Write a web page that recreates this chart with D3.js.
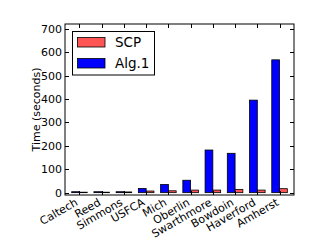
<!DOCTYPE html>
<html>
<head>
<meta charset="utf-8">
<script src="https://cdn.jsdelivr.net/npm/d3@7"></script>
<style>
  body { margin: 0; background: #fff; }
  text { font-family: "DejaVu Sans", sans-serif; fill: #000; }
</style>
</head>
<body>
<svg width="327" height="245"></svg>
<script>
var schools = ["Caltech", "Reed", "Simmons", "USFCA", "Mich", "Oberlin", "Swarthmore", "Bowdoin", "Haverford", "Amherst"];
var scp = [2, 2, 3, 7, 8, 11, 11, 14, 11, 17];
var alg1 = [4, 4, 4, 18, 35, 53, 182, 168, 395, 567];
var yTicks = [0, 100, 200, 300, 400, 500, 600, 700];

var svg = d3.select("svg"),
  plotL = 65, plotR = 294, plotT = 24, plotB = 195,
  barW = 0.35;

var x = d3.scaleLinear().domain([-0.3, 10.0]).range([plotL, plotR]);
var y = d3.scaleLinear().domain([-10, 720]).range([plotB, plotT]);

var g = svg.append("g");

// bars: Alg.1 on the left, SCP on the right of each group
g.append("g").selectAll("rect")
  .data(alg1)
  .enter().append("rect")
  .attr("x", function (d, i) { return x(i); })
  .attr("width", function () { return x(barW) - x(0); })
  .attr("y", function (d) { return y(d); })
  .attr("height", function (d) { return y(0) - y(d); })
  .attr("fill", "#0000ff")
  .attr("stroke", "#000")
  .attr("stroke-width", 0.8);

g.append("g").selectAll("rect")
  .data(scp)
  .enter().append("rect")
  .attr("x", function (d, i) { return x(i + barW); })
  .attr("width", function () { return x(barW) - x(0); })
  .attr("y", function (d) { return y(d); })
  .attr("height", function (d) { return y(0) - y(d); })
  .attr("fill", "#ff5555")
  .attr("stroke", "#000")
  .attr("stroke-width", 0.8);

// frame
g.append("rect")
  .attr("x", plotL).attr("y", plotT)
  .attr("width", plotR - plotL).attr("height", plotB - plotT)
  .attr("fill", "none")
  .attr("stroke", "#000")
  .attr("stroke-width", 1);

// y ticks (inside, both sides)
var yt = g.append("g").selectAll("g")
  .data(yTicks)
  .enter().append("g")
  .attr("transform", function (d) { return "translate(0," + (Math.round(y(d)) + 0.5) + ")"; });

yt.append("line").attr("x1", plotL).attr("x2", plotL + 4).attr("stroke", "#000");
yt.append("line").attr("x1", plotR).attr("x2", plotR - 4).attr("stroke", "#000");
yt.append("text")
  .attr("x", plotL - 3)
  .attr("dy", "0.35em")
  .attr("text-anchor", "end")
  .style("font-size", "11px")
  .text(function (d) { return d; });

// x ticks at group centers
var xt = g.append("g").selectAll("g")
  .data(schools)
  .enter().append("g")
  .attr("transform", function (d, i) { return "translate(" + (Math.round(x(i + barW)) + 0.5) + ",0)"; });

xt.append("line").attr("y1", plotB).attr("y2", plotB - 4).attr("stroke", "#000");
xt.append("line").attr("y1", plotT).attr("y2", plotT + 4).attr("stroke", "#000");
xt.append("text")
  .attr("text-anchor", "end")
  .attr("transform", "translate(-1,204.5)rotate(-30)")
  .style("font-size", "11px")
  .text(function (d) { return d; });

// y label
svg.append("text")
  .attr("transform", "translate(40," + ((plotT + plotB) / 2) + ")rotate(-90)")
  .attr("text-anchor", "middle")
  .style("font-size", "11px")
  .text("Time (seconds)");

// legend
var legend = g.append("g");
legend.append("rect")
  .attr("x", 72.5).attr("y", 31.5)
  .attr("width", 82).attr("height", 43.5)
  .attr("fill", "#fff")
  .attr("stroke", "#000");

var items = legend.selectAll("g.item")
  .data([{ name: "SCP", color: "#ff5555" }, { name: "Alg.1", color: "#0000ff" }])
  .enter().append("g")
  .attr("class", "item")
  .attr("transform", function (d, i) { return "translate(0," + (i * 21) + ")"; });

items.append("rect")
  .attr("x", 77.5).attr("y", 37.5)
  .attr("width", 27.5).attr("height", 9.5)
  .attr("fill", function (d) { return d.color; })
  .attr("stroke", "#000")
  .attr("stroke-width", 0.8);

items.append("text")
  .attr("x", 115)
  .attr("y", 42)
  .attr("dy", "0.36em")
  .style("font-size", "13.5px")
  .text(function (d) { return d.name; });
</script>
</body>
</html>
